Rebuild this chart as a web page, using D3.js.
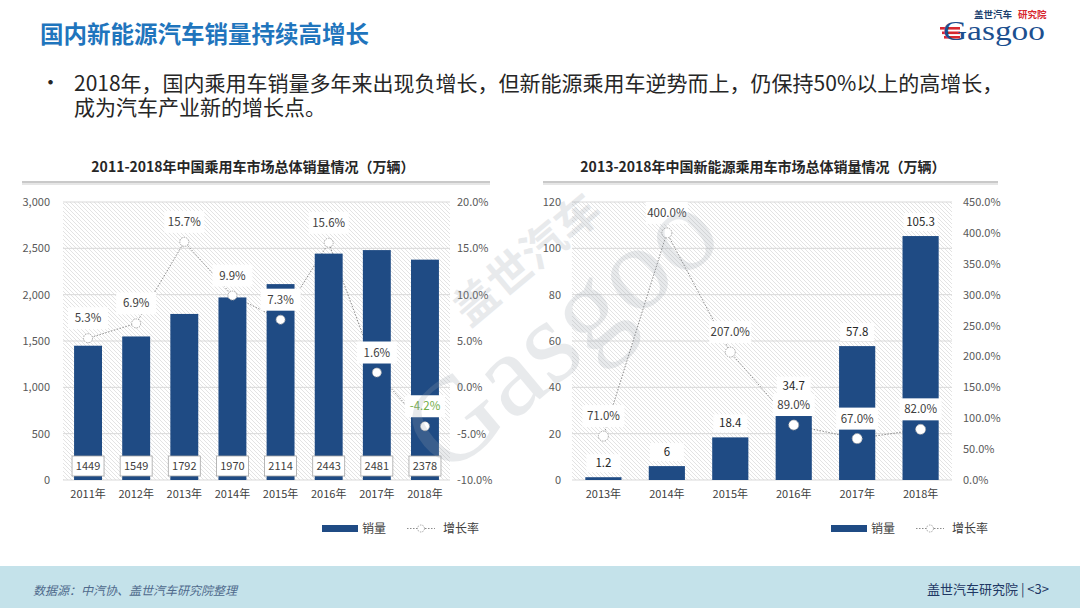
<!DOCTYPE html>
<html><head><meta charset="utf-8">
<script src="https://cdn.jsdelivr.net/npm/d3@7"></script>
<style>
html,body{margin:0;padding:0;background:#fff;}
svg{display:block;font-family:"Noto Sans CJK SC","Noto Sans",sans-serif;}
</style></head>
<body>
<svg id="c" width="1080" height="608"></svg>
<script>
// ---------- data ----------
const leftYears = ["2011年","2012年","2013年","2014年","2015年","2016年","2017年","2018年"];
const leftSales = [1449,1549,1792,1970,2114,2443,2481,2378];
const leftGrowth = [5.3,6.9,15.7,9.9,7.3,15.6,1.6,-4.2];
const leftTicks = [0,500,1000,1500,2000,2500,3000];
const leftRateTicks = [-10,-5,0,5,10,15,20];

const rightYears = ["2013年","2014年","2015年","2016年","2017年","2018年"];
const rightSales = [1.2,6,18.4,34.7,57.8,105.3];
const rightGrowth = [71.0,400.0,207.0,89.0,67.0,82.0];
const rightTicks = [0,20,40,60,80,100,120];
const rightRateTicks = [0,50,100,150,200,250,300,350,400,450];

const pageTitle = "国内新能源汽车销量持续高增长";
const bulletLines = ["2018年，国内乘用车销量多年来出现负增长，但新能源乘用车逆势而上，仍保持50%以上的高增长，","成为汽车产业新的增长点。"];
const leftTitle = "2011-2018年中国乘用车市场总体销量情况（万辆）";
const rightTitle = "2013-2018年中国新能源乘用车市场总体销量情况（万辆）";
const legendNames = ["销量","增长率"];

// ---------- drawing ----------
const svg = d3.select("#c");
const defs = svg.append("defs");
const pat = defs.append("pattern").attr("id","hatch").attr("patternUnits","userSpaceOnUse")
  .attr("width",4).attr("height",4);
pat.append("rect").attr("width",4).attr("height",4).attr("fill","#ffffff");
pat.append("path").attr("d","M-1,-1 L5,5 M-1,3 L1,5 M3,-1 L5,1").attr("stroke","#e3e3e3").attr("stroke-width",1);

const BAR = "#1f4b84";
const TXT = "#595959";

// header
svg.append("text").attr("x",40).attr("y",43).attr("font-size",23.5).attr("font-weight","bold")
  .attr("fill","#1f75bd").text(pageTitle);
svg.append("text").attr("x",40).attr("y",90).attr("font-size",21).attr("fill","#262626").text("•");
svg.append("text").attr("font-size",21).attr("fill","#262626")
  .selectAll("tspan").data(bulletLines).join("tspan")
  .attr("x",74).attr("y",(d,i)=>91+i*23.5).text(d=>d);

// logo
const logo = svg.append("g");
[0,1,2].forEach(i=>{
  logo.append("rect").attr("x",940+i*2).attr("y",27+i*4.5).attr("width",20-i*2).attr("height",2.6).attr("fill","#d7282f");
});
logo.append("text").attr("x",943).attr("y",40).attr("font-family","Liberation Serif, serif")
  .attr("font-size",28).attr("textLength",102).attr("lengthAdjust","spacingAndGlyphs")
  .attr("fill","#1c4f8f").text("Gasgoo");
logo.append("text").attr("x",974).attr("y",18).attr("font-size",9.5).attr("font-weight","bold").attr("fill","#1c3f6e").text("盖世汽车");
logo.append("text").attr("x",1018).attr("y",18).attr("font-size",9.5).attr("font-weight","bold").attr("fill","#d7282f").text("研究院");

function drawChart(o){
  const g = svg.append("g");
  const x = d3.scaleBand().domain(o.cats).range([o.x0,o.x1]).paddingInner(o.pi).paddingOuter(o.po);
  const y = d3.scaleLinear().domain(o.yDom).range([480,202]);
  const y2 = d3.scaleLinear().domain(o.y2Dom).range([480,202]);

  // title
  g.append("text").attr("x",o.titleX).attr("y",172).attr("text-anchor","middle")
    .attr("font-size",14).attr("font-weight","bold").attr("fill","#262626").text(o.title);
  g.append("line").attr("x1",o.lineX0).attr("x2",o.lineX1).attr("y1",183).attr("y2",183)
    .attr("stroke","#e6e6e6").attr("stroke-width",4);
  g.append("line").attr("x1",o.lineX0).attr("x2",o.lineX1).attr("y1",182).attr("y2",182)
    .attr("stroke","#bfbfbf").attr("stroke-width",1.5);

  // plot bg
  g.append("rect").attr("x",o.x0).attr("y",202).attr("width",o.x1-o.x0).attr("height",278).attr("fill","url(#hatch)");
  // grid
  g.selectAll(".grid").data(o.ticks).join("line")
    .attr("x1",o.x0).attr("x2",o.x1).attr("y1",d=>y(d)).attr("y2",d=>y(d))
    .attr("stroke","#d9d9d9").attr("stroke-width",1);

  // axes labels
  const ya = d3.axisLeft(y).tickValues(o.ticks).tickFormat(o.fmt).tickSize(0).tickPadding(0);
  const ag = g.append("g").attr("transform",`translate(${o.yLabelX},0)`).call(ya);
  ag.select(".domain").remove();
  ag.selectAll("text").attr("font-size",11).attr("fill",TXT).attr("font-family","Noto Sans CJK SC, sans-serif");
  const y2a = d3.axisRight(y2).tickValues(o.rateTicks).tickFormat(d=>d.toFixed(1)+"%").tickSize(0).tickPadding(0);
  const ag2 = g.append("g").attr("transform",`translate(${o.y2LabelX},0)`).call(y2a);
  ag2.select(".domain").remove();
  ag2.selectAll("text").attr("font-size",11).attr("fill",TXT).attr("font-family","Noto Sans CJK SC, sans-serif");
  const xa = d3.axisBottom(x).tickSize(0).tickPadding(0);
  const ag3 = g.append("g").attr("transform","translate(0,490)").call(xa);
  ag3.select(".domain").remove();
  ag3.selectAll("text").attr("font-size",11).attr("fill","#404040").attr("font-family","Noto Sans CJK SC, sans-serif");

  const cx = d => x(d)+x.bandwidth()/2;
  const pts = o.cats.map((c,i)=>({c, v:o.sales[i], r:o.rates[i]}));

  // growth line (behind bars)
  const line = d3.line().x(d=>cx(d.c)).y(d=>y2(d.r));
  g.append("path").attr("d",line(pts)).attr("fill","none").attr("stroke","#8c8c8c")
    .attr("stroke-width",1).attr("stroke-dasharray","1.5,1.5");

  // bars
  g.selectAll(".bar").data(pts).join("rect")
    .attr("x",d=>x(d.c)).attr("width",x.bandwidth())
    .attr("y",d=>y(d.v)).attr("height",d=>480-y(d.v)).attr("fill",BAR);

  // growth label boxes (white, occlude bars)
  const bw = o.rateBoxW, bh = 22;
  g.selectAll(".rbox").data(pts).join("rect")
    .attr("x",d=>cx(d.c)-bw/2).attr("y",d=>y2(d.r)-20-bh/2).attr("width",bw).attr("height",bh)
    .attr("fill","#fff");

  // sales labels
  if(o.salesInBox){
    g.selectAll(".sbox").data(pts).join("rect")
      .attr("x",d=>cx(d.c)-16).attr("y",456).attr("width",32).attr("height",20)
      .attr("fill","#fff").attr("stroke","#a6a6a6").attr("stroke-width",0.8);
    g.selectAll(".stxt").data(pts).join("text")
      .attr("x",d=>cx(d.c)).attr("y",470).attr("text-anchor","middle")
      .attr("font-size",11).attr("fill","#404040").text(d=>d.v);
  } else {
    g.selectAll(".sbox").data(pts).join("rect")
      .attr("x",d=>cx(d.c)-17).attr("y",d=>y(d.v)-14-9).attr("width",34).attr("height",18)
      .attr("fill","#fff");
    g.selectAll(".stxt").data(pts).join("text")
      .attr("x",d=>cx(d.c)).attr("y",d=>y(d.v)-14+4).attr("text-anchor","middle")
      .attr("font-size",11.5).attr("fill","#262626").text(d=>d.v);
  }

  // markers
  g.selectAll(".mk").data(pts).join("circle")
    .attr("cx",d=>cx(d.c)).attr("cy",d=>y2(d.r)).attr("r",o.mr)
    .attr("fill","#fff").attr("stroke","#a6a6a6").attr("stroke-width",1).attr("stroke-dasharray","1.5,1");

  // growth labels
  g.selectAll(".rtxt").data(pts).join("text")
    .attr("x",d=>cx(d.c)).attr("y",d=>y2(d.r)-20+4).attr("text-anchor","middle")
    .attr("font-size",11.5).attr("fill",d=>d.r<0?"#70ad47":"#404040").text(d=>d.r.toFixed(1)+"%");

  // legend
  const L = g.append("g");
  L.append("rect").attr("x",o.legX).attr("y",525).attr("width",36).attr("height",7).attr("fill",BAR);
  L.append("text").attr("x",o.legX+40).attr("y",533).attr("font-size",12).attr("fill","#404040").text(legendNames[0]);
  L.append("line").attr("x1",o.legX+85).attr("x2",o.legX+113).attr("y1",528.5).attr("y2",528.5)
    .attr("stroke","#8c8c8c").attr("stroke-dasharray","1.5,1.5");
  L.append("circle").attr("cx",o.legX+99).attr("cy",528.5).attr("r",3.5).attr("fill","#fff")
    .attr("stroke","#a6a6a6").attr("stroke-dasharray","1.5,1");
  L.append("text").attr("x",o.legX+121).attr("y",533).attr("font-size",12).attr("fill","#404040").text(legendNames[1]);
}

drawChart({
  cats:leftYears, sales:leftSales, rates:leftGrowth, ticks:leftTicks, rateTicks:leftRateTicks,
  x0:63, x1:450, pi:0.42, po:0.23, yDom:[0,3000], y2Dom:[-10,20],
  fmt:d3.format(","), yLabelX:50, y2LabelX:457,
  title:leftTitle, titleX:253, lineX0:22, lineX1:490,
  salesInBox:true, rateBoxW:40, mr:4.5, legX:322
});
drawChart({
  cats:rightYears, sales:rightSales, rates:rightGrowth, ticks:rightTicks, rateTicks:rightRateTicks,
  x0:572, x1:952, pi:0.43, po:0.21, yDom:[0,120], y2Dom:[0,450],
  fmt:d3.format("d"), yLabelX:561, y2LabelX:963,
  title:rightTitle, titleX:763, lineX0:543, lineX1:998,
  salesInBox:false, rateBoxW:42, mr:5, legX:831
});

// watermark
const wm = svg.append("g").attr("transform","translate(560,330) rotate(-40)").attr("opacity",0.22);
wm.append("text").attr("x",0).attr("y",40).attr("text-anchor","middle").attr("font-family","Liberation Serif, serif")
  .attr("font-size",120).attr("fill","#9aa3ad").text("Gasgoo");
wm.append("text").attr("x",20).attr("y",-60).attr("text-anchor","middle").attr("font-size",44).attr("font-weight","bold")
  .attr("fill","#9aa3ad").text("盖世汽车");

// footer
svg.append("rect").attr("x",0).attr("y",566).attr("width",1080).attr("height",42).attr("fill","#c4e2ea");
svg.append("text").attr("x",33).attr("y",595).attr("font-size",12).attr("font-style","italic")
  .attr("fill","#4f6a8c").text("数据源：中汽协、盖世汽车研究院整理");
svg.append("text").attr("x",1049).attr("y",594).attr("text-anchor","end").attr("font-size",13)
  .attr("fill","#1f3864").text("盖世汽车研究院 | <3>");
</script>
</body></html>
